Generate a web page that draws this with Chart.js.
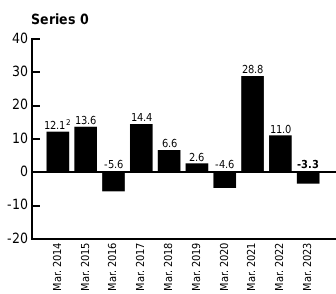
<!DOCTYPE html>
<html>
<head>
<meta charset="utf-8">
<script src="https://cdn.jsdelivr.net/npm/chart.js@4.4.1/dist/chart.umd.min.js"></script>
<style>
  @font-face {
    font-family: 'Narrow';
    src: local('Liberation Sans Narrow'), local('LiberationSansNarrow-Regular'),
         local('DejaVu Sans Condensed'), local('DejaVuSansCondensed');
    font-weight: 400;
  }
  @font-face {
    font-family: 'Narrow';
    src: local('Liberation Sans Narrow Bold'), local('LiberationSansNarrow-Bold'),
         local('DejaVu Sans Condensed Bold'), local('DejaVuSansCondensed-Bold');
    font-weight: 700;
  }
  html, body { margin: 0; padding: 0; background: #fff; }
  #wrap { width: 336px; height: 294px; position: relative; }
</style>
</head>
<body>
<div id="wrap"><canvas id="chart"></canvas></div>
<script>
const categories = ['Mar. 2014', 'Mar. 2015', 'Mar. 2016', 'Mar. 2017', 'Mar. 2018',
  'Mar. 2019', 'Mar. 2020', 'Mar. 2021', 'Mar. 2022', 'Mar. 2023'];
const values = [12.1, 13.6, -5.6, 14.4, 6.6, 2.6, -4.6, 28.8, 11.0, -3.3];
const notes = ['2', '', '', '', '', '', '', '', '', ''];
const yTicks = [-20, -10, 0, 10, 20, 30, 40];
const seriesName = 'Series 0';
const emphasised = 9; // last value is printed in bold

const FONT = 'Narrow, "DejaVu Sans", sans-serif';

// title, inward y ticks, zero line and value labels
const decorations = {
  id: 'decorations',
  afterDraw(chart) {
    const ctx = chart.ctx;
    const area = chart.chartArea;
    const y = chart.scales.y;
    ctx.save();

    ctx.fillStyle = '#000';
    ctx.font = 'bold 14px ' + FONT;
    ctx.textAlign = 'left';
    ctx.textBaseline = 'middle';
    ctx.fillText(seriesName, area.left - 1, 20);

    ctx.strokeStyle = '#000';
    ctx.lineWidth = 2;
    yTicks.forEach(v => {
      const py = Math.round(y.getPixelForValue(v));
      ctx.beginPath();
      ctx.moveTo(area.left, py);
      ctx.lineTo(area.left + 8, py);
      ctx.stroke();
    });
    const zy = Math.round(y.getPixelForValue(0));
    ctx.beginPath();
    ctx.moveTo(area.left, zy);
    ctx.lineTo(area.right, zy);
    ctx.stroke();

    const meta = chart.getDatasetMeta(0);
    ctx.textBaseline = 'alphabetic';
    meta.data.forEach((bar, i) => {
      const v = values[i];
      const text = v.toFixed(1);
      const base = v >= 0 ? bar.y - 3 : zy - 4;
      const main = (i === emphasised ? 'bold ' : '') + '11px ' + FONT;
      ctx.font = main;
      const w = ctx.measureText(text).width;
      let sw = 0;
      if (notes[i]) {
        ctx.font = '8px ' + FONT;
        sw = ctx.measureText(notes[i]).width + 1;
      }
      const left = bar.x - (w + sw) / 2;
      ctx.font = main;
      ctx.textAlign = 'left';
      ctx.fillText(text, left, base);
      if (notes[i]) {
        ctx.font = '8px ' + FONT;
        ctx.fillText(notes[i], left + w + 1, base - 4);
      }
    });
    ctx.restore();
  }
};

function draw() {
  new Chart(document.getElementById('chart'), {
    type: 'bar',
    data: {
      datasets: [{
        label: seriesName,
        data: values.map((v, i) => ({ x: i, y: v })),
        backgroundColor: '#000',
        borderWidth: 0,
        barThickness: 22
      }]
    },
    options: {
      responsive: true,
      maintainAspectRatio: false,
      animation: false,
      layout: { padding: { top: 39, right: 0, left: 0, bottom: 0 } },
      plugins: {
        legend: { display: false },
        title: { display: false },
        tooltip: { enabled: false }
      },
      scales: {
        x: {
          type: 'linear',
          min: -0.93,
          max: 10,
          offset: false,
          grid: { display: false, drawTicks: false },
          border: { display: true, color: '#000', width: 2 },
          afterBuildTicks(scale) {
            scale.ticks = categories.map((c, i) => ({ value: i }));
          },
          ticks: {
            autoSkip: false,
            maxRotation: 90,
            minRotation: 90,
            padding: 4,
            color: '#000',
            font: { family: FONT, size: 11 },
            callback: v => categories[v]
          },
          afterFit(scale) { scale.height = 55; }
        },
        y: {
          min: -20,
          max: 40,
          afterBuildTicks(scale) {
            scale.ticks = yTicks.map(v => ({ value: v }));
          },
          grid: { display: false, drawTicks: false },
          border: { display: true, color: '#000', width: 2 },
          ticks: {
            padding: 4,
            color: '#000',
            font: { family: FONT, size: 14 }
          },
          afterFit(scale) { scale.width = 32; }
        }
      }
    },
    plugins: [decorations]
  });
}

Promise.all([
  document.fonts.load('12px Narrow'),
  document.fonts.load('bold 12px Narrow')
]).then(draw, draw);
</script>
</body>
</html>
